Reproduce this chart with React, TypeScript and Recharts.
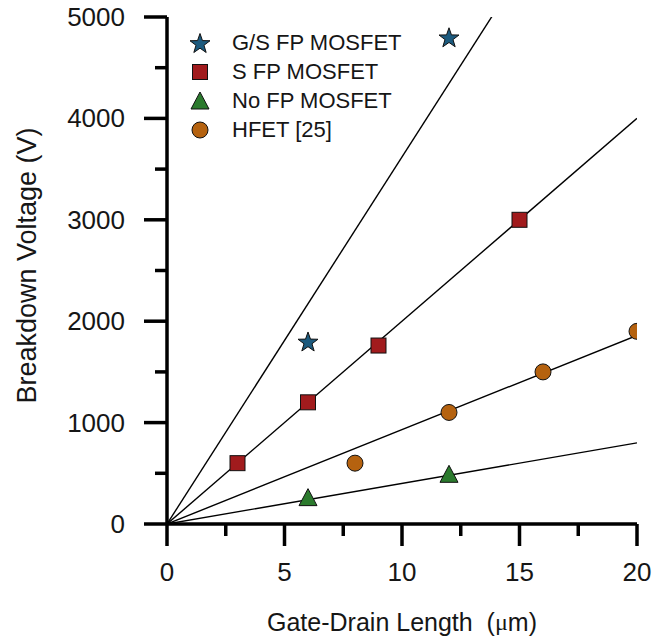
import React from 'react';
import { ComposedChart, XAxis, YAxis, Line, Scatter, Legend, Label } from 'recharts';

const FONT = '"Liberation Sans", Arial, Helvetica, sans-serif';
const INK = '#161616';

// Breakdown voltage (V) versus gate-drain length (µm)
const gsFpLength = [6, 12];
const gsFpVoltage = [1800, 4800];
const sFpLength = [3, 6, 9, 15];
const sFpVoltage = [600, 1200, 1760, 3000];
const noFpLength = [6, 12];
const noFpVoltage = [260, 490];
const hfetLength = [8, 12, 16, 20];
const hfetVoltage = [600, 1100, 1500, 1900];

// Straight-line fits through the origin, slope in V/µm
const fitSlopes = [362, 200, 93, 40];
const fitLength = [0, 20];

const xTicks = [0, 2.5, 5, 7.5, 10, 12.5, 15, 17.5, 20];
const yTicks = [0, 500, 1000, 1500, 2000, 2500, 3000, 3500, 4000, 4500, 5000];

const seriesNames = ['G/S FP MOSFET', 'S FP MOSFET', 'No FP MOSFET', 'HFET [25]'];
const seriesColors = ['#1c5a7e', '#a11b1d', '#2b7a2d', '#b5620f'];
const seriesShapes = ['star', 'square', 'triangle', 'circle'];

const toPoints = (xs: number[], ys: number[]) => xs.map((x, i) => ({ x, y: ys[i] }));
const seriesData = [
  toPoints(gsFpLength, gsFpVoltage),
  toPoints(sFpLength, sFpVoltage),
  toPoints(noFpLength, noFpVoltage),
  toPoints(hfetLength, hfetVoltage),
];
const fitData = fitSlopes.map((s) => fitLength.map((x) => ({ x, y: s * x })));

function Marker({ kind, cx, cy, fill }: { kind: string; cx: number; cy: number; fill: string }) {
  const stroke = '#111';
  if (kind === 'star') {
    const R = 10.5;
    const r = R * 0.4;
    const pts: string[] = [];
    for (let i = 0; i < 10; i++) {
      const rad = i % 2 === 0 ? R : r;
      const a = -Math.PI / 2 + (i * Math.PI) / 5;
      pts.push(`${cx + rad * Math.cos(a)},${cy + 1 + rad * Math.sin(a)}`);
    }
    return <polygon points={pts.join(' ')} fill={fill} stroke={stroke} strokeWidth={1} />;
  }
  if (kind === 'square') {
    return <rect x={cx - 7.5} y={cy - 7.5} width={15} height={15} fill={fill} stroke={stroke} strokeWidth={1} />;
  }
  if (kind === 'triangle') {
    return (
      <polygon
        points={`${cx},${cy - 9} ${cx + 9},${cy + 8} ${cx - 9},${cy + 8}`}
        fill={fill}
        stroke={stroke}
        strokeWidth={1}
      />
    );
  }
  return <circle cx={cx} cy={cy} r={8} fill={fill} stroke={stroke} strokeWidth={1} />;
}

const XTick = (props: any) => {
  const { x, y, payload } = props;
  const v = payload.value as number;
  const major = v % 5 === 0;
  return (
    <g>
      <line x1={x} x2={x} y1={y} y2={y + (major ? 22 : 12)} stroke="#000" strokeWidth={3.5} />
      {major && (
        <text x={x} y={y + 48} textAnchor="middle" dominantBaseline="central" fontSize={26} fontFamily={FONT} fill={INK}>
          {v}
        </text>
      )}
    </g>
  );
};

const YTick = (props: any) => {
  const { x, y, payload } = props;
  const v = payload.value as number;
  const major = v % 1000 === 0;
  return (
    <g>
      <line x1={x} x2={x - (major ? 23 : 12)} y1={y} y2={y} stroke="#000" strokeWidth={3.5} />
      {major && (
        <text x={x - 42} y={y} textAnchor="end" dominantBaseline="central" fontSize={26} fontFamily={FONT} fill={INK}>
          {v}
        </text>
      )}
    </g>
  );
};

const XTitle = (props: any) => {
  const vb = props.viewBox;
  return (
    <text x={vb.x + vb.width / 2} y={vb.y + 98} textAnchor="middle" dominantBaseline="central" fontSize={25} fontFamily={FONT} fill={INK}>
      Gate-Drain Length{'\u00a0\u00a0'}(<tspan fontFamily='"Liberation Serif", "Times New Roman", serif' fontSize={24}>μ</tspan>m)
    </text>
  );
};

const YTitle = (props: any) => {
  const vb = props.viewBox;
  const cx = 27;
  const cy = vb.y + vb.height / 2 - 5;
  return (
    <text
      x={cx}
      y={cy}
      transform={`rotate(-90 ${cx} ${cy})`}
      textAnchor="middle"
      dominantBaseline="central"
      fontSize={27}
      fontFamily={FONT}
      fill={INK}
    >
      Breakdown Voltage (V)
    </text>
  );
};

const LegendBox = () => (
  <div style={{ fontFamily: FONT, fontSize: 22, color: INK }}>
    {seriesNames.map((name, i) => (
      <div key={name} style={{ display: 'flex', alignItems: 'center', height: 29 }}>
        <svg width={24} height={24} style={{ display: 'block' }}>
          <Marker kind={seriesShapes[i]} cx={12} cy={12} fill={seriesColors[i]} />
        </svg>
        <span style={{ marginLeft: 20, lineHeight: '29px', whiteSpace: 'nowrap' }}>{name}</span>
      </div>
    ))}
  </div>
);

export default function App() {
  return (
    <div style={{ position: 'absolute', left: 0, top: 0, width: 652, height: 640, background: '#fff' }}>
      <ComposedChart width={652} height={640} margin={{ top: 17, right: 15, bottom: 0, left: 0 }}>
        <XAxis
          dataKey="x"
          type="number"
          domain={[0, 20]}
          ticks={xTicks}
          interval={0}
          height={116}
          tickSize={0}
          tickMargin={0}
          tickLine={false}
          tick={<XTick />}
          axisLine={{ stroke: '#000', strokeWidth: 3.5 }}
          allowDataOverflow
        >
          <Label content={<XTitle />} />
        </XAxis>
        <XAxis
          xAxisId="top"
          orientation="top"
          type="number"
          domain={[0, 20]}
          height={0}
          tick={false}
          tickLine={false}
          axisLine={{ stroke: '#000', strokeWidth: 3.5 }}
        />
        <YAxis
          dataKey="y"
          type="number"
          domain={[0, 5000]}
          ticks={yTicks}
          interval={0}
          width={167}
          tickSize={0}
          tickMargin={0}
          tickLine={false}
          tick={<YTick />}
          axisLine={{ stroke: '#000', strokeWidth: 3.5 }}
          allowDataOverflow
        >
          <Label content={<YTitle />} />
        </YAxis>
        <YAxis
          yAxisId="right"
          orientation="right"
          type="number"
          domain={[0, 5000]}
          width={0}
          tick={false}
          tickLine={false}
          axisLine={{ stroke: '#000', strokeWidth: 3.5 }}
        />
        {fitData.map((d, i) => (
          <Line
            key={`fit-${i}`}
            data={d}
            dataKey="y"
            type="linear"
            stroke="#000"
            strokeWidth={1.4}
            dot={false}
            activeDot={false}
            legendType="none"
            isAnimationActive={false}
          />
        ))}
        {seriesData.map((d, i) => (
          <Scatter
            key={seriesNames[i]}
            name={seriesNames[i]}
            data={d}
            dataKey="y"
            fill={seriesColors[i]}
            isAnimationActive={false}
            shape={(p: any) => <Marker kind={seriesShapes[i]} cx={p.cx} cy={p.cy} fill={seriesColors[i]} />}
          />
        ))}
        <Legend
          layout="horizontal"
          verticalAlign="middle"
          align="center"
          content={<LegendBox />}
          wrapperStyle={{ position: 'absolute', left: 188, top: 28, width: 'auto' }}
        />
      </ComposedChart>
    </div>
  );
}
